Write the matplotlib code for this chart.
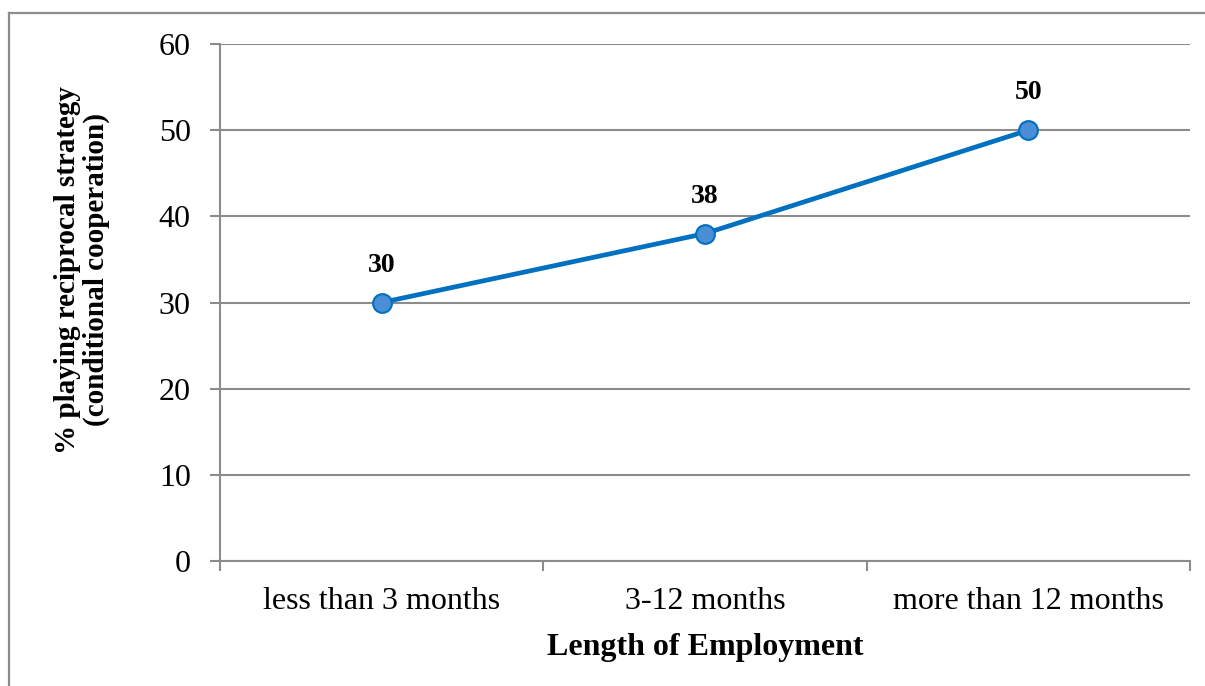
import matplotlib
matplotlib.use("Agg")
import matplotlib.pyplot as plt
from matplotlib.lines import Line2D

categories = ["less than 3 months", "3-12 months", "more than 12 months"]
values = [30, 38, 50]
yticks = [0, 10, 20, 30, 40, 50, 60]

plt.rcParams['font.family'] = ['Liberation Serif', 'DejaVu Serif']

W, H = 1205, 686
fig = plt.figure(figsize=(W / 100, H / 100), dpi=100)
ax = fig.add_axes([220 / W, 1 - 561 / H, (1190 - 220) / W, (561 - 44) / H])

grid_c = '#8c8c8c'
x = list(range(len(categories)))
ax.plot(x, values, color='#0070C0', lw=3.4, marker='o', markersize=13.5,
        markerfacecolor='#4a8fd6', markeredgecolor='#0070C0', markeredgewidth=1.5,
        zorder=3, clip_on=False)
for xi, v in zip(x, values):
    ax.annotate(f"{v}", (xi, v), xytext=(0, 18), textcoords='offset points',
                ha='center', va='bottom', fontsize=20, fontweight='bold')

ax.set_xlim(-0.5, len(categories) - 0.5)
ax.set_ylim(0, 60)
ax.set_yticks(yticks)
ax.set_yticklabels([str(t) for t in yticks], fontsize=23)
ax.set_xticks(x)
ax.set_xticklabels(categories, fontsize=23)
ax.set_xticks([i - 0.5 for i in range(len(categories) + 1)], minor=True)
ax.tick_params(axis='x', which='major', length=0, pad=19)
ax.tick_params(axis='x', which='minor', length=7, width=1.5, color=grid_c, direction='out')
ax.tick_params(axis='y', length=7, width=1.5, color=grid_c, direction='out', pad=14)
ax.yaxis.grid(True, color=grid_c, lw=1.5)
ax.set_axisbelow(True)
for s in ['top', 'right']:
    ax.spines[s].set_visible(False)
for s in ['left', 'bottom']:
    ax.spines[s].set_color(grid_c)
    ax.spines[s].set_linewidth(1.5)

ax.set_xlabel("Length of Employment", fontsize=23, fontweight='bold', labelpad=12)
fig.text(82 / W, 1 - 270 / H, "% playing reciprocal strategy\n(conditional cooperation)",
         rotation=90, ha='center', va='center', fontsize=21, fontweight='bold',
         linespacing=1.1)

# figure border (top and left)
fig.add_artist(Line2D([9 / W, 1], [1 - 13 / H, 1 - 13 / H], color=grid_c, lw=1.6,
                      transform=fig.transFigure))
fig.add_artist(Line2D([9 / W, 9 / W], [0, 1 - 13 / H], color=grid_c, lw=1.6,
                      transform=fig.transFigure))

fig.savefig("out.png", dpi=100)
